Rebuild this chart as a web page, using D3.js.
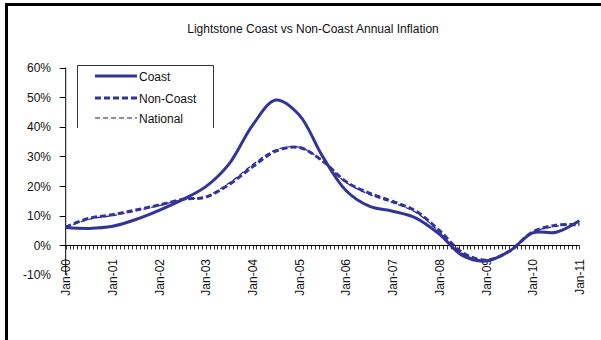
<!DOCTYPE html>
<html><head><meta charset="utf-8">
<script src="https://cdn.jsdelivr.net/npm/d3@7"></script>
<style>body{margin:0;background:#fff}svg{display:block}text{font-family:"Liberation Sans",Arial,sans-serif;fill:#111}</style>
</head><body>
<script>
// half-yearly sample points (months since Jan-00)
const months = [0,6,12,18,24,30,36,42,48,54,60,66,72,78,84,90,96,102,108,114,120,126,132];
const coast    = [6.0,5.7,6.4,8.7,11.8,15.4,19.8,27.5,40.5,49,44,30,18.5,13.2,11.5,9.2,3.8,-3.5,-5.3,-2.0,4.2,4.4,8.3];
const nonCoast = [6.2,9.1,10.3,11.9,13.6,15.5,16.3,20.5,26.5,31.8,33.0,28.5,21.5,17.6,14.8,11.5,5.0,-2.5,-5.0,-2.0,4.5,6.8,6.9];
const national = [6.1,8.8,10.0,11.6,13.4,15.4,16.5,21.0,27.2,32.2,33.1,28.5,21.2,17.2,14.4,11.1,4.6,-2.8,-5.1,-2.0,4.4,6.4,7.2];
const yearLabels = ["Jan-00","Jan-01","Jan-02","Jan-03","Jan-04","Jan-05","Jan-06","Jan-07","Jan-08","Jan-09","Jan-10","Jan-11"];
const yTicks = [-10,0,10,20,30,40,50,60];
const seriesNames = ["Coast","Non-Coast","National"];

const W=601,H=340, color="#333399";
const svg=d3.select("body").append("svg").attr("width",W).attr("height",H);

// outer frame
svg.append("path").attr("d","M6.5,340V4.5H601").attr("fill","none").attr("stroke","#000").attr("stroke-width",3);

svg.append("text").attr("x",313).attr("y",33).attr("text-anchor","middle").attr("font-size",12)
  .text("Lightstone Coast vs Non-Coast Annual Inflation");

const x=d3.scaleLinear().domain([0,132]).range([65.7,579.4]);
const y=d3.scaleLinear().domain([0,60]).range([245.3,67.5]);

// y axis
svg.append("line").attr("x1",x(0)).attr("x2",x(0)).attr("y1",y(60)).attr("y2",y(-10)).attr("stroke","#000");
yTicks.forEach(v=>{
  if(v>=0) svg.append("line").attr("x1",x(0)-6).attr("x2",x(0)).attr("y1",Math.round(y(v))+0.5).attr("y2",Math.round(y(v))+0.5).attr("stroke","#000");
  svg.append("text").attr("x",51).attr("y",y(v)+4.5).attr("text-anchor","end").attr("font-size",12).text(v+"%");
});

// x axis
const y0=Math.round(y(0))+0.5;
svg.append("line").attr("x1",x(0)).attr("x2",x(132)).attr("y1",y0).attr("y2",y0).attr("stroke","#000");
d3.range(0,133).forEach(m=>{
  const xx=Math.round(x(m))+0.5;
  svg.append("line").attr("x1",xx).attr("x2",xx).attr("y1",y0).attr("y2",y0+4).attr("stroke","#000").attr("stroke-width",0.8);
});
yearLabels.forEach((lab,i)=>{
  const xx=x(i*12);
  svg.append("text").attr("transform",`translate(${xx+4.5},259) rotate(-90)`).attr("text-anchor","end").attr("font-size",12).text(lab);
});

// lines
const line=d3.line().x((d,i)=>x(months[i])).y(d=>y(d)).curve(d3.curveCatmullRom.alpha(0.5));
svg.append("path").datum(national).attr("d",line).attr("fill","none").attr("stroke","#1a1a99").attr("stroke-width",1.2).attr("stroke-dasharray","5,3");
svg.append("path").datum(nonCoast).attr("d",line).attr("fill","none").attr("stroke",color).attr("stroke-width",3).attr("stroke-dasharray","6,3");
svg.append("path").datum(coast).attr("d",line).attr("fill","none").attr("stroke",color).attr("stroke-width",3);

// legend
svg.append("path").attr("d","M77.5,128V65.5H213.5V128").attr("fill","none").attr("stroke","#333").attr("stroke-width",1);
const legY=[76,98,118];
const styles=[{w:3,d:null,c:color},{w:3,d:"6,3",c:color},{w:1.2,d:"5,3",c:"#1a1a99"}];
seriesNames.forEach((n,i)=>{
  svg.append("line").attr("x1",95).attr("x2",137).attr("y1",legY[i]).attr("y2",legY[i]).attr("stroke",styles[i].c).attr("stroke-width",styles[i].w).attr("stroke-dasharray",styles[i].d);
  svg.append("text").attr("x",139).attr("y",legY[i]+4.5).attr("font-size",12).text(n);
});
</script>
</body></html>
